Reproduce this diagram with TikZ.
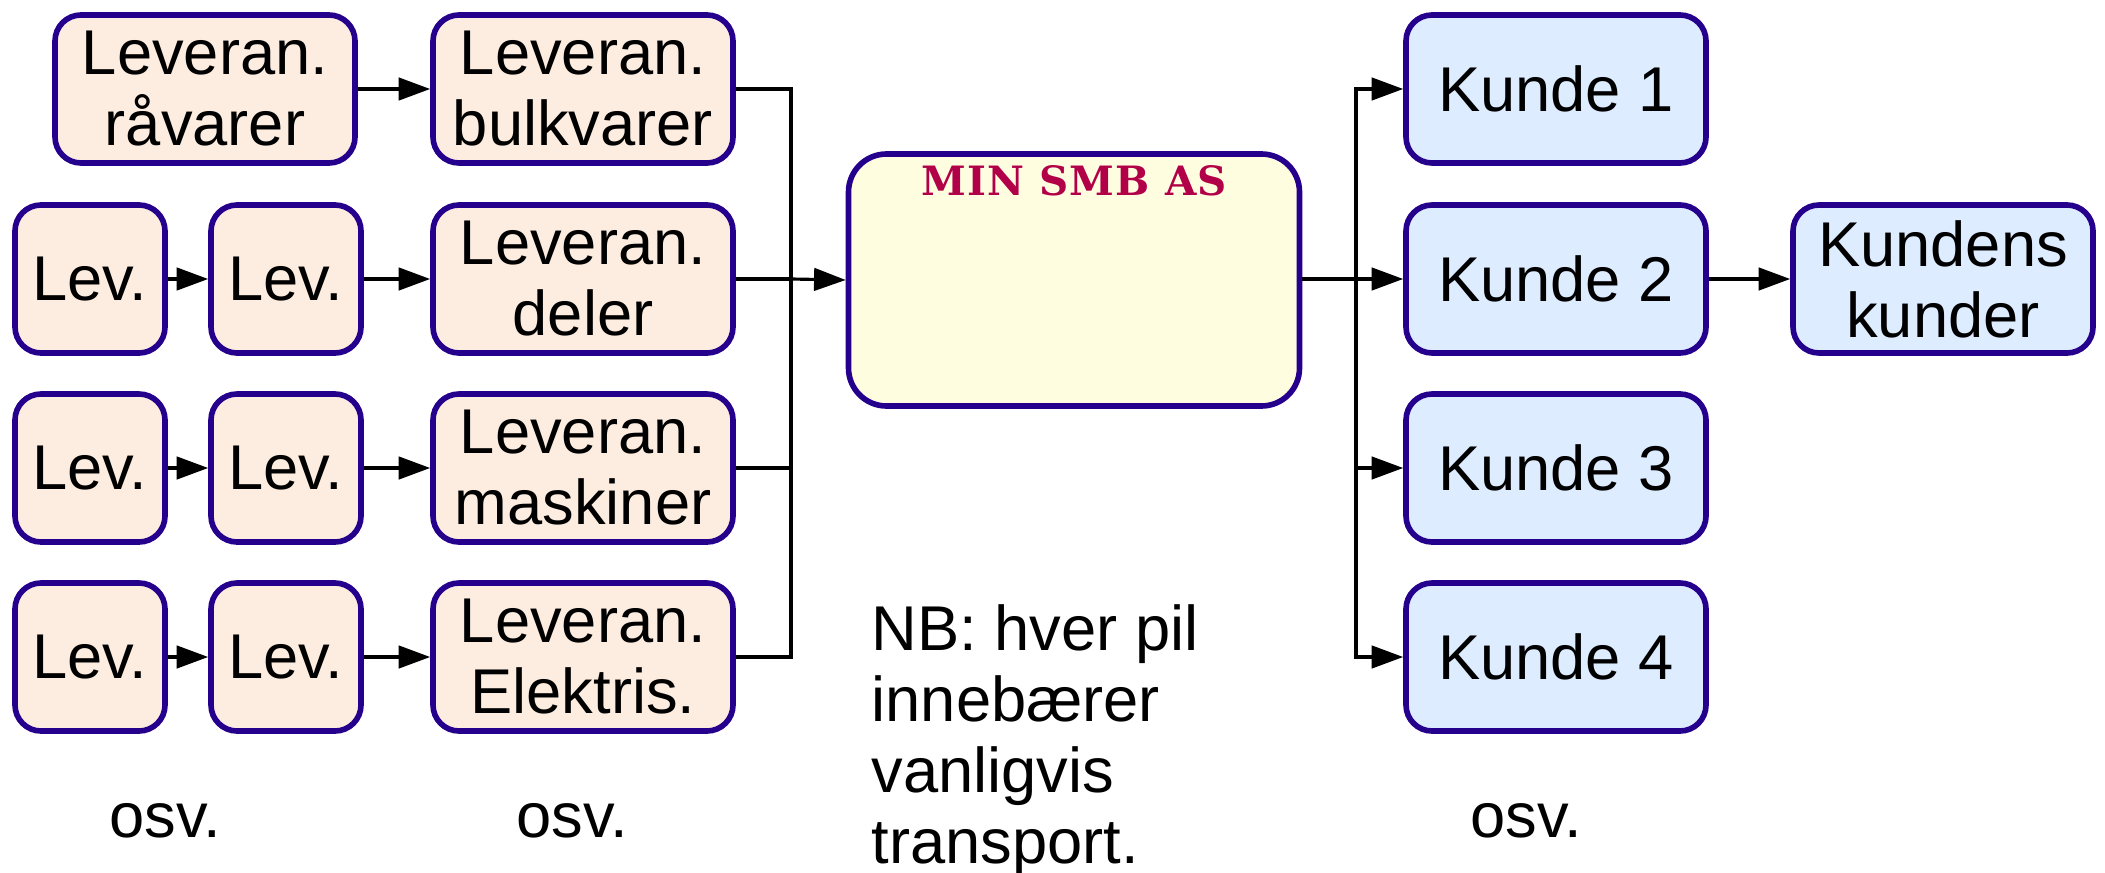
\documentclass[tikz,border=0pt]{standalone}
\usepackage{fontspec}
\setsansfont{Liberation Sans}
\newfontfamily\tittelfont[LetterSpace=3.0]{DejaVu Serif}
\usepackage{tikz}
\usetikzlibrary{positioning,arrows.meta}
\usepackage{xcolor}
\definecolor{kant}{RGB}{36,0,140}
\definecolor{levfarge}{RGB}{253,237,224}
\definecolor{kundefarge}{RGB}{221,236,255}
\definecolor{smbfarge}{RGB}{255,253,224}
\definecolor{tittelrod}{RGB}{178,0,72}

\begin{document}
\begin{tikzpicture}[
  boks/.style={draw=kant,line width=1.6pt,rounded corners=0.26cm,align=center,
    minimum height=1.48cm,inner sep=0pt,font=\sffamily\fontsize{18}{20.2}\selectfont},
  lev/.style={boks,fill=levfarge,minimum width=3.0cm},
  levliten/.style={boks,fill=levfarge,minimum width=1.5cm},
  kunde/.style={boks,fill=kundefarge,minimum width=3.0cm},
  tekst/.style={font=\sffamily\fontsize{18}{20.2}\selectfont,inner sep=0pt},
  pil/.style={black,line width=0.9pt,-{Triangle[length=9pt,width=6.4pt]}},
  linje/.style={black,line width=0.9pt}
]
\useasboundingbox (0,0) rectangle (21.05,-8.72);

\node[lev] (ravarer) at (2.05,-0.89) {Leveran.\\råvarer};
\node[levliten] (lev1a) at (0.90,-2.79) {Lev.};
\node[levliten] (lev1b) at (2.86,-2.79) {Lev.};
\node[levliten] (lev2a) at (0.90,-4.68) {Lev.};
\node[levliten] (lev2b) at (2.86,-4.68) {Lev.};
\node[levliten] (lev3a) at (0.90,-6.57) {Lev.};
\node[levliten] (lev3b) at (2.86,-6.57) {Lev.};

\node[lev] (bulk) at (5.83,-0.89) {Leveran.\\bulkvarer};
\node[lev] (deler) at (5.83,-2.79) {Leveran.\\deler};
\node[lev] (maskiner) at (5.83,-4.68) {Leveran.\\maskiner};
\node[lev] (elektris) at (5.83,-6.57) {Leveran.\\Elektris.};

\node[draw=kant,fill=smbfarge,line width=1.6pt,rounded corners=0.38cm,
  minimum width=4.51cm,minimum height=2.52cm] (smb) at (10.74,-2.80) {};
\node[anchor=base,text=tittelrod,font=\tittelfont\bfseries\fontsize{11.5}{13}\selectfont]
  (tittel) at ([yshift=-0.44cm]smb.north) {MIN SMB AS};

\node[kunde] (kunde1) at (15.56,-0.89) {Kunde 1};
\node[kunde] (kunde2) at (15.56,-2.79) {Kunde 2};
\node[kunde] (kunde3) at (15.56,-4.68) {Kunde 3};
\node[kunde] (kunde4) at (15.56,-6.57) {Kunde 4};
\node[kunde] (kundens) at (19.43,-2.79) {Kundens\\kunder};

\node[tekst,align=left,anchor=north west] (nb) at (8.71,-6.04)
  {NB: hver pil\\innebærer\\vanligvis\\transport.};
\node[tekst,anchor=base] (osv1) at (1.65,-8.37) {osv.};
\node[tekst,anchor=base] (osv2) at (5.72,-8.37) {osv.};
\node[tekst,anchor=base] (osv3) at (15.26,-8.37) {osv.};

\coordinate (innbus) at (7.91,-2.79);
\coordinate (utbus) at (13.56,-2.79);

\draw[pil] (ravarer) -- (bulk);
\draw[pil] (lev1a) -- (lev1b);
\draw[pil] (lev1b) -- (deler);
\draw[pil] (lev2a) -- (lev2b);
\draw[pil] (lev2b) -- (maskiner);
\draw[pil] (lev3a) -- (lev3b);
\draw[pil] (lev3b) -- (elektris);

\draw[linje] (bulk.east) -| (innbus);
\draw[linje] (elektris.east) -| (innbus);
\draw[linje] (deler.east) -- (innbus);
\draw[linje] (maskiner.east) -- (maskiner.east -| innbus);
\draw[pil] (innbus) -- (smb.west);

\draw[linje,line width=1.3pt] (smb.east |- utbus) -- (utbus);
\draw[pil] (utbus) |- (kunde1);
\draw[pil] (utbus) -- (kunde2);
\draw[pil] (utbus) |- (kunde3);
\draw[pil] (utbus) |- (kunde4);
\draw[pil] (kunde2) -- (kundens);
\end{tikzpicture}
\end{document}
